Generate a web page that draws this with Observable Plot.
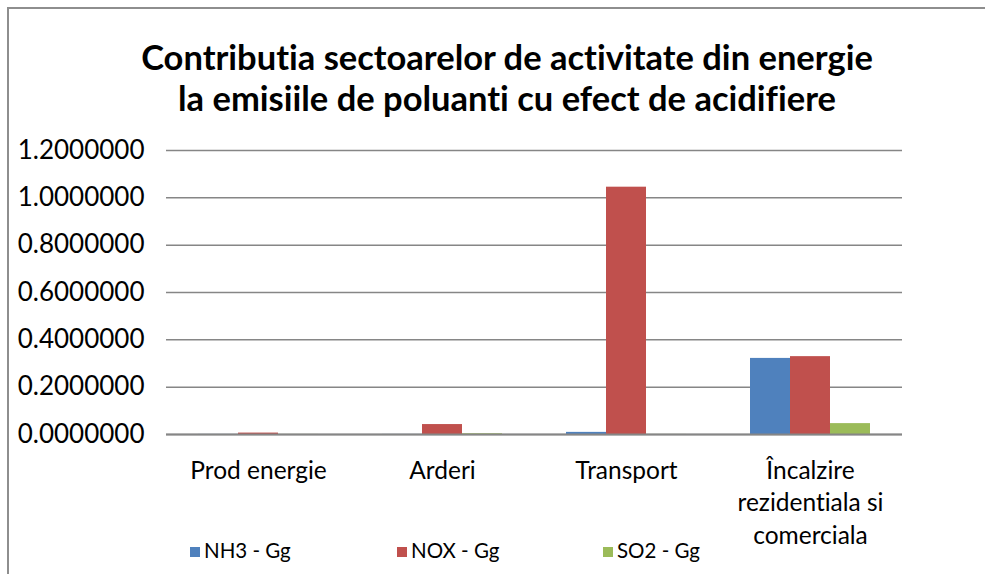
<!DOCTYPE html>
<html>
<head>
<meta charset="utf-8">
<script src="https://cdn.jsdelivr.net/npm/d3@7"></script>
<script src="https://cdn.jsdelivr.net/npm/@observablehq/plot@0.6"></script>
<style>
  html, body { margin: 0; padding: 0; background: #fff; width: 985px; height: 574px; overflow: hidden; }
  body { position: relative; font-family: Lato, "Open Sans", sans-serif; color: #000; font-variant-ligatures: none; }
  svg text { font-variant-ligatures: none; }
  #frame { position: absolute; left: 7px; top: 7px; width: 1100px; height: 700px; border: 2px solid #8e8e8e; box-sizing: border-box; }
  #title { position: absolute; left: 0; top: 36px; width: 1014px; text-align: center; font-weight: 700; font-size: 34.5px; line-height: 41px; }
  #chart { position: absolute; left: 0; top: 0; }
  .leg { position: absolute; top: 536px; font-size: 20.5px; line-height: 28px; white-space: nowrap; }
  .leg span.sw { display: inline-block; width: 10px; height: 10px; margin-right: 4px; vertical-align: 1px; }
</style>
</head>
<body>
<div id="frame"></div>
<div id="title">Contributia sectoarelor de activitate din energie<br>la emisiile de poluanti cu efect de acidifiere</div>
<div id="chart"></div>
<div id="legend"></div>
<script>
const categories = ["Prod energie", "Arderi", "Transport", "Încalzire\nrezidentiala si\ncomerciala"];
const series = ["NH3 - Gg", "NOX - Gg", "SO2 - Gg"];
const nh3 = [0.0003, 0.0003, 0.009, 0.3215];
const nox = [0.006, 0.042, 1.045, 0.329];
const so2 = [0.0003, 0.003, 0.0003, 0.046];
const colors = ["#4F81BD", "#C0504D", "#9BBB59"];
const yTicks = [0, 0.2, 0.4, 0.6, 0.8, 1.0, 1.2];
const legendX = [190, 397, 603];

const seriesValues = [nh3, nox, so2];
const data = [];
categories.forEach((c, i) => series.forEach((s, j) => data.push({category: c, series: s, value: seriesValues[j][i]})));

const plot = Plot.plot({
  width: 985,
  height: 574,
  marginTop: 150,
  marginBottom: 140,
  marginLeft: 164,
  marginRight: 82,
  style: { fontFamily: "Lato, 'Open Sans', sans-serif", fontSize: "22px", color: "#000", background: "transparent" },
  fx: { domain: categories, padding: 0, label: null },
  x: { domain: series, paddingInner: 0, paddingOuter: 0.75, axis: null },
  y: { domain: [0, 1.2], label: null },
  color: { domain: series, range: colors },
  marks: [
    Plot.gridY(yTicks, { stroke: "#868686", strokeOpacity: 1, strokeWidth: 1.5 }),
    Plot.barY(data, { fx: "category", x: "series", y: "value", fill: "series" }),
    Plot.ruleY([0], { stroke: "#868686", strokeWidth: 2 }),
    Plot.axisY({ ticks: yTicks, tickFormat: d3.format(".7f"), tickSize: 0, tickPadding: 22, fontSize: 26, line: true, stroke: "#868686", strokeWidth: 2, label: null }),
    Plot.axisFx({ anchor: "bottom", tickSize: 0, tickPadding: 21, lineHeight: 1.33, fontSize: 24.5, label: null })
  ]
});
document.getElementById("chart").appendChild(plot);

const leg = document.getElementById("legend");
series.forEach((s, j) => {
  const d = document.createElement("div");
  d.className = "leg";
  d.style.left = legendX[j] + "px";
  d.innerHTML = `<span class="sw" style="background:${colors[j]}"></span>${s}`;
  leg.appendChild(d);
});
</script>
</body>
</html>
